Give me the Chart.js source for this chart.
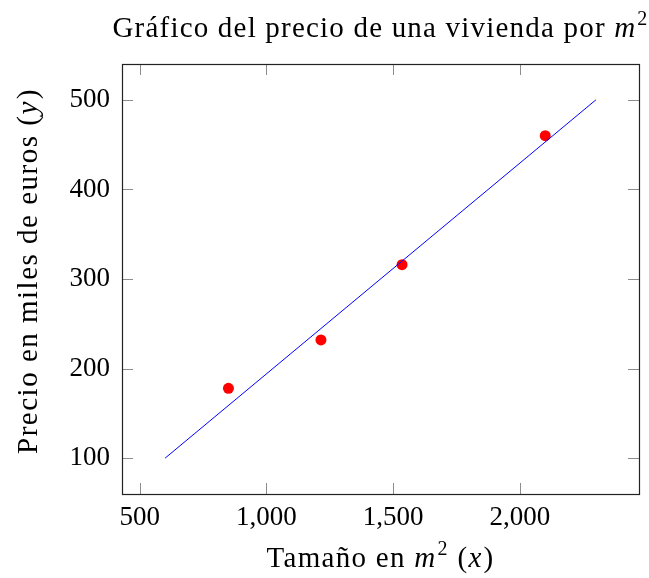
<!DOCTYPE html>
<html>
<head>
<meta charset="utf-8">
<script src="https://cdn.jsdelivr.net/npm/chart.js@4/dist/chart.umd.min.js"></script>
<style>
  html, body { margin: 0; padding: 0; background: #fff; }
  canvas { display: block; }
</style>
</head>
<body>
<canvas id="chart" width="649" height="578"></canvas>
<script>
// datos
const tamano = [850, 1215, 1535, 2100];
const precio = [178, 232, 316, 460];
const rectaX = [600, 2300];
const rectaY = [100, 500];
const xTicks = [500, 1000, 1500, 2000];
const yTicks = [100, 200, 300, 400, 500];

const FONT = '"Liberation Serif", "DejaVu Serif", serif';

// texto con partes en cursiva y superindice
const titulo = [['Gráfico del precio de una vivienda por ', 'n'], ['m', 'i'], ['2', 's']];
const tituloX = [['Tamaño en ', 'n'], ['m', 'i'], ['2', 's'], [' (', 'n'], ['x', 'i'], [')', 'n']];
const tituloY = [['Precio en miles de euros (', 'n'], ['y', 'i'], [')', 'n']];

function fontFor(kind, size) {
  if (kind === 'i') return `italic ${size}px ${FONT}`;
  if (kind === 's') return `${Math.round(size * 0.7)}px ${FONT}`;
  return `${size}px ${FONT}`;
}

function drawRich(ctx, parts, cx, cy, size, spacing) {
  ctx.letterSpacing = spacing + 'px';
  let total = 0;
  parts.forEach(([t, k]) => {
    ctx.font = fontFor(k, size);
    total += ctx.measureText(t).width + (k === 'i' ? 1 : 0);
  });
  let x = cx - total / 2;
  ctx.textBaseline = 'alphabetic';
  ctx.textAlign = 'left';
  const base = cy + size * 0.33;
  parts.forEach(([t, k]) => {
    ctx.font = fontFor(k, size);
    const y = k === 's' ? base - size * 0.4 : base;
    ctx.fillText(t, x, y);
    x += ctx.measureText(t).width + (k === 'i' ? 1 : 0);
  });
  ctx.letterSpacing = '0px';
}

const marcoPlugin = {
  id: 'marco',
  afterDraw(chart) {
    const { ctx, chartArea: a, scales } = chart;
    ctx.save();
    // marcas hacia dentro en los cuatro lados
    ctx.strokeStyle = '#8c8c8c';
    ctx.lineWidth = 1;
    const len = 11;
    ctx.beginPath();
    scales.x.ticks.forEach(t => {
      const px = Math.round(scales.x.getPixelForValue(t.value)) + 0.5;
      ctx.moveTo(px, a.bottom); ctx.lineTo(px, a.bottom - len);
      ctx.moveTo(px, a.top); ctx.lineTo(px, a.top + len);
    });
    scales.y.ticks.forEach(t => {
      const py = Math.round(scales.y.getPixelForValue(t.value)) + 0.5;
      ctx.moveTo(a.left, py); ctx.lineTo(a.left + len, py);
      ctx.moveTo(a.right, py); ctx.lineTo(a.right - len, py);
    });
    ctx.stroke();

    ctx.strokeStyle = '#222';
    ctx.lineWidth = 1.2;
    ctx.strokeRect(Math.round(a.left) + 0.5, Math.round(a.top) + 0.5,
      Math.round(a.right - a.left), Math.round(a.bottom - a.top));

    ctx.fillStyle = '#000';
    const cx = (a.left + a.right) / 2;
    drawRich(ctx, titulo, cx, 27, 29, 1.2);
    drawRich(ctx, tituloX, cx, 557, 29, 1.3);
    ctx.translate(27, (a.top + a.bottom) / 2 - 8);
    ctx.rotate(-Math.PI / 2);
    drawRich(ctx, tituloY, 0, 0, 29, 1.5);
    ctx.restore();
  }
};

new Chart(document.getElementById('chart'), {
  type: 'scatter',
  data: {
    datasets: [
      {
        label: 'recta',
        data: rectaX.map((x, i) => ({ x, y: rectaY[i] })),
        showLine: true,
        borderColor: '#0000ff',
        borderWidth: 1,
        pointRadius: 0,
        fill: false
      },
      {
        label: 'datos',
        data: tamano.map((x, i) => ({ x, y: precio[i] })),
        backgroundColor: '#ff0000',
        borderWidth: 0,
        pointRadius: 5.5
      }
    ]
  },
  options: {
    responsive: false,
    animation: false,
    devicePixelRatio: 1,
    layout: { padding: { top: 64, right: 10, left: 0, bottom: 0 } },
    plugins: { legend: { display: false }, tooltip: { enabled: false }, title: { display: false } },
    scales: {
      x: {
        type: 'linear',
        min: 430,
        max: 2470,
        grid: { display: false, drawTicks: false },
        border: { display: false },
        afterBuildTicks: s => { s.ticks = xTicks.map(v => ({ value: v })); },
        afterFit: s => { s.height = 84; },
        ticks: {
          padding: 8,
          color: '#000',
          font: { family: FONT, size: 27 },
          callback: v => v.toLocaleString('en-US')
        }
      },
      y: {
        type: 'linear',
        min: 60,
        max: 540,
        grid: { display: false, drawTicks: false },
        border: { display: false },
        afterBuildTicks: s => { s.ticks = yTicks.map(v => ({ value: v })); },
        afterFit: s => { s.width = 122; },
        ticks: {
          padding: 12,
          color: '#000',
          font: { family: FONT, size: 27 }
        }
      }
    }
  },
  plugins: [marcoPlugin]
});
</script>
</body>
</html>
